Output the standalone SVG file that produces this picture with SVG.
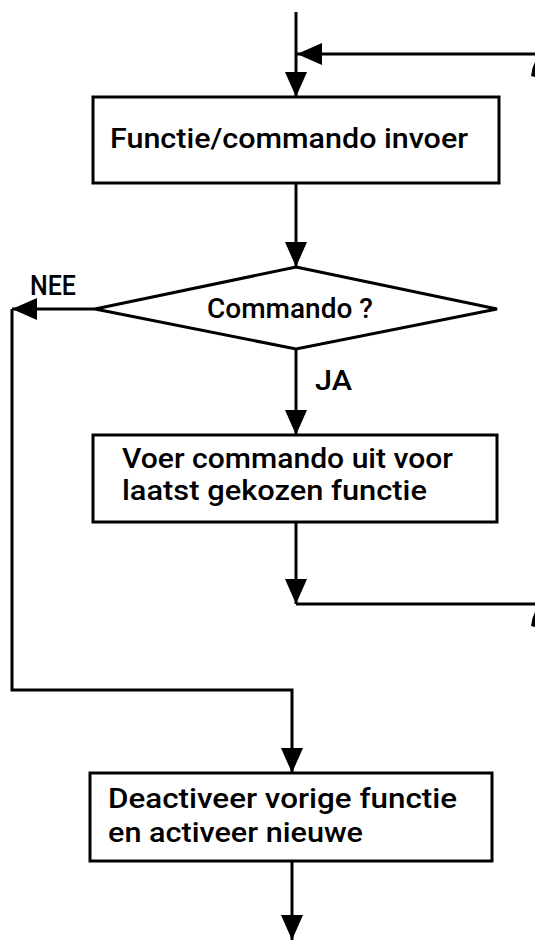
<svg xmlns="http://www.w3.org/2000/svg" width="535" height="941" viewBox="0 0 535 941">
  <style>
    .ln{fill:none;stroke:#000;stroke-width:3}
    .arr{fill:none;stroke:#000;stroke-width:3;marker-end:url(#ah)}
    .box{fill:#fff;stroke:#000;stroke-width:3}
    .t{font-family:Roboto,"Liberation Sans",Arial,sans-serif;font-weight:500;font-size:28px;fill:#000}
  </style>
  <defs>
    <marker id="ah" markerUnits="userSpaceOnUse" markerWidth="26" markerHeight="24" refX="25" refY="11" orient="auto">
      <path d="M0,0 L25,11 L0,22 Z" fill="#000"/>
    </marker>
  </defs>

  <rect width="535" height="941" fill="#fff"/>

  <!-- connectors -->
  <g id="connectors">
    <path class="arr" d="M296,12 V97"/>
    <path class="arr" d="M535,54 H297"/>
    <path class="arr" d="M296,183 V267"/>
    <path class="arr" d="M95,309 H12"/>
    <path class="arr" d="M12,309 V690 H292 V773"/>
    <path class="arr" d="M296,349 V435"/>
    <path class="arr" d="M296,522 V604"/>
    <path class="ln" d="M296,604 H535"/>
    <path class="arr" d="M292,861 V940"/>
    <!-- continuation marks at the right margin -->
    <path d="M535,62 L532.5,68 L531,76 L535,77 Z" fill="#000"/>
    <path d="M535,612 L532.5,618 L531,626 L535,627 Z" fill="#000"/>
  </g>

  <g id="input">
    <rect class="box" x="93" y="97" width="406" height="86"/>
    <text class="t" x="110" y="148" textLength="358" lengthAdjust="spacingAndGlyphs">Functie/commando invoer</text>
  </g>

  <g id="decision">
    <polygon class="box" points="296,267 497,309 296,349 95,309"/>
    <text class="t" x="207" y="318" textLength="166" lengthAdjust="spacingAndGlyphs">Commando ?</text>
  </g>

  <g id="labels">
    <text class="t" x="30" y="295" textLength="46" lengthAdjust="spacingAndGlyphs">NEE</text>
    <text class="t" x="315" y="390" textLength="37" lengthAdjust="spacingAndGlyphs">JA</text>
  </g>

  <g id="execute">
    <rect class="box" x="93" y="435" width="404" height="87"/>
    <text class="t" x="122" y="468" textLength="331" lengthAdjust="spacingAndGlyphs">Voer commando uit voor</text>
    <text class="t" x="122" y="500" textLength="305" lengthAdjust="spacingAndGlyphs">laatst gekozen functie</text>
  </g>

  <g id="activate">
    <rect class="box" x="90" y="773" width="402" height="88"/>
    <text class="t" x="108" y="808" textLength="349" lengthAdjust="spacingAndGlyphs">Deactiveer vorige functie</text>
    <text class="t" x="108" y="842" textLength="255" lengthAdjust="spacingAndGlyphs">en activeer nieuwe</text>
  </g>
</svg>
